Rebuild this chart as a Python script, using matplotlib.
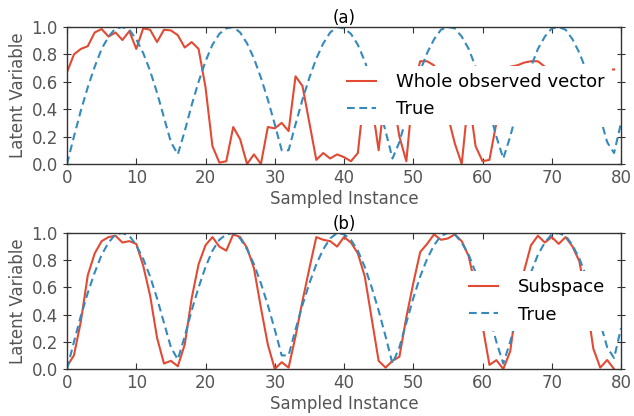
import numpy as np
import matplotlib
matplotlib.use("Agg")
import matplotlib.pyplot as plt

# sampled instances
x_true = np.arange(0, 81)
x_est = np.arange(0, 80)

true_vals = [0.00, 0.20, 0.39, 0.56, 0.71, 0.84, 0.93, 0.99, 1.00, 0.98,
             0.91, 0.81, 0.68, 0.52, 0.34, 0.16, 0.07, 0.24, 0.43, 0.60,
             0.75, 0.87, 0.95, 0.99, 1.00, 0.96, 0.88, 0.77, 0.63, 0.47,
             0.29, 0.10, 0.10, 0.29, 0.47, 0.63, 0.77, 0.88, 0.96, 1.00,
             0.99, 0.95, 0.87, 0.75, 0.60, 0.43, 0.24, 0.04, 0.16, 0.34,
             0.52, 0.68, 0.81, 0.91, 0.98, 1.00, 0.99, 0.93, 0.84, 0.71,
             0.56, 0.39, 0.20, 0.04, 0.20, 0.39, 0.56, 0.71, 0.84, 0.93,
             0.99, 1.00, 0.98, 0.91, 0.81, 0.68, 0.52, 0.34, 0.16, 0.08,
             0.30]

whole_vals = [0.67, 0.80, 0.84, 0.86, 0.96, 0.985, 0.93, 0.96, 0.905, 0.97,
              0.84, 0.99, 0.98, 0.89, 0.98, 0.975, 0.94, 0.85, 0.89, 0.84,
              0.56, 0.13, 0.01, 0.02, 0.27, 0.18, 0.00, 0.07, 0.00, 0.27,
              0.26, 0.30, 0.24, 0.64, 0.57, 0.30, 0.03, 0.08, 0.04, 0.07,
              0.05, 0.02, 0.08, 0.55, 0.45, 0.10, 0.55, 0.50, 0.20, 0.02,
              0.55, 0.75, 0.75, 0.72, 0.55, 0.35, 0.15, 0.00, 0.50, 0.13,
              0.02, 0.03, 0.30, 0.60, 0.71, 0.72, 0.74, 0.75, 0.75, 0.71,
              0.66, 0.70, 0.69, 0.66, 0.70, 0.70, 0.69, 0.70, 0.69, 0.69]

subspace_vals = [0.02, 0.10, 0.35, 0.69, 0.85, 0.94, 0.97, 0.98, 0.93, 0.94,
                 0.92, 0.76, 0.54, 0.23, 0.04, 0.06, 0.02, 0.18, 0.52, 0.77,
                 0.91, 0.97, 0.90, 0.87, 0.99, 0.97, 0.89, 0.74, 0.45, 0.18,
                 0.00, 0.05, 0.01, 0.24, 0.50, 0.74, 0.97, 0.95, 0.94, 0.90,
                 0.97, 0.93, 0.85, 0.68, 0.37, 0.06, 0.01, 0.06, 0.09, 0.38,
                 0.63, 0.86, 0.92, 0.99, 0.95, 0.96, 0.99, 0.94, 0.83, 0.60,
                 0.32, 0.03, 0.065, 0.00, 0.13, 0.50, 0.72, 0.91, 0.98, 0.93,
                 0.97, 0.92, 0.97, 0.90, 0.79, 0.50, 0.15, 0.01, 0.066, 0.00]

red = '#E24A33'
blue = '#348ABD'
gray = '#555555'

fig = plt.figure(figsize=(6.34, 4.16), dpi=100)
ax1 = fig.add_axes([0.1057, 0.6058, 0.8738, 0.3293])
ax2 = fig.add_axes([0.1057, 0.1130, 0.8738, 0.3269])

panels = [(ax1, whole_vals, 'Whole observed vector', '(a)'),
          (ax2, subspace_vals, 'Subspace', '(b)')]

for ax, est, lab, ttl in panels:
    ax.plot(x_est, est, color=red, lw=1.5, label=lab)
    ax.plot(x_true, true_vals, color=blue, lw=1.5, linestyle=(0, (3.7, 2.2)), label='True')
    ax.set_xlim(0, 80)
    ax.set_ylim(0, 1.0)
    ax.set_xticks(np.arange(0, 81, 10))
    ax.set_yticks(np.arange(0, 1.01, 0.2))
    ax.set_xlabel('Sampled Instance', fontsize=12, color=gray, labelpad=2)
    ax.set_ylabel('Latent Variable', fontsize=12, color=gray, labelpad=3)
    ax.set_title(ttl, fontsize=12, pad=2)
    ax.tick_params(axis='both', which='both', direction='in', top=True, right=True,
                   labelsize=12, labelcolor=gray, length=4, color='#333333')
    ax.tick_params(axis='y', direction='inout', length=6)
    for s in ax.spines.values():
        s.set_color('#333333')
        s.set_linewidth(1.0)
    leg = ax.legend(loc='center right', fontsize=13, frameon=True, framealpha=1.0,
                    edgecolor='none', fancybox=False, handlelength=1.6,
                    handletextpad=1.1, borderaxespad=0.5)
    leg.get_frame().set_facecolor('white')

fig.savefig('out.png', dpi=100)
